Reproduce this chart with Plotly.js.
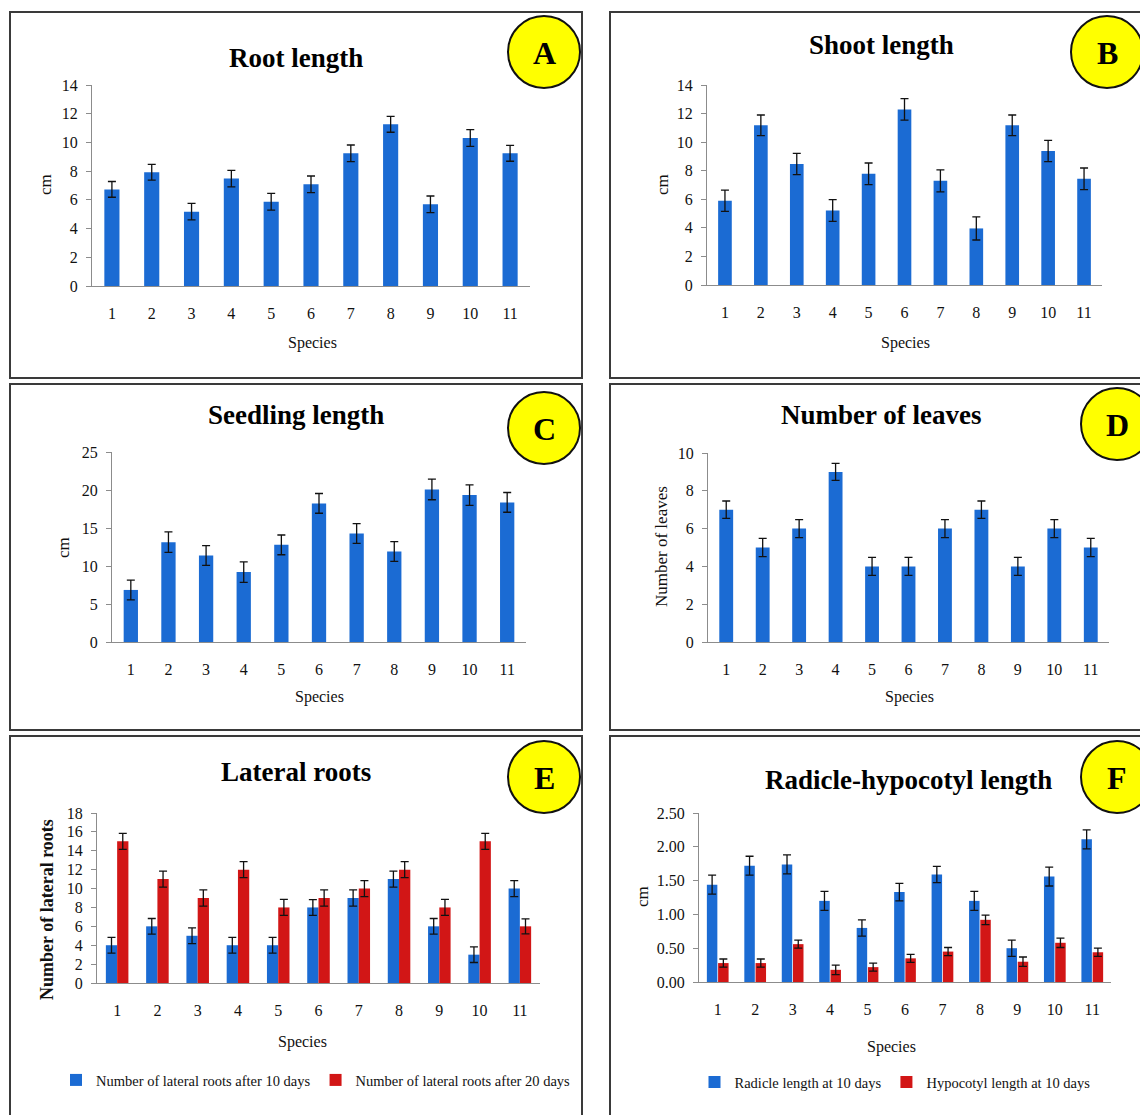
<!DOCTYPE html>
<html>
<head>
<meta charset="utf-8">
<script src="https://cdn.plot.ly/plotly-3.0.1.min.js"></script>
<style>
html,body{margin:0;padding:0;background:#fff;}
#chart{width:1140px;height:1115px;}
</style>
</head>
<body>
<div id="chart"></div>
<script>
// ---------- DATA ----------
const species = ['1','2','3','4','5','6','7','8','9','10','11'];

const rootLength = [6.73, 7.92, 5.18, 7.48, 5.87, 7.08, 9.24, 11.26, 5.69, 10.31, 9.24];
const rootErr    = [0.55, 0.55, 0.58, 0.58, 0.58, 0.58, 0.58, 0.55, 0.58, 0.58, 0.55];

const shootLength = [5.90, 11.18, 8.47, 5.21, 7.78, 12.29, 7.29, 3.96, 11.18, 9.38, 7.43];
const shootErr    = [0.74, 0.72, 0.75, 0.76, 0.76, 0.75, 0.77, 0.81, 0.72, 0.75, 0.76];

const seedlingLength = [6.85, 13.13, 11.39, 9.20, 12.78, 18.24, 14.27, 11.91, 20.07, 19.33, 18.37];
const seedlingErr    = [1.30, 1.35, 1.30, 1.35, 1.30, 1.30, 1.30, 1.30, 1.35, 1.35, 1.30];

const leaves    = [7, 5, 6, 9, 4, 4, 6, 7, 4, 6, 5];
const leavesErr = [0.46, 0.48, 0.48, 0.45, 0.48, 0.48, 0.48, 0.46, 0.48, 0.48, 0.48];

const lateral10    = [4, 6, 5, 4, 4, 8, 9, 11, 6, 3, 10];
const lateral10Err = [0.83, 0.83, 0.83, 0.83, 0.83, 0.83, 0.85, 0.85, 0.83, 0.83, 0.85];
const lateral20    = [15, 11, 9, 12, 8, 9, 10, 12, 8, 15, 6];
const lateral20Err = [0.85, 0.85, 0.85, 0.85, 0.85, 0.85, 0.85, 0.85, 0.85, 0.85, 0.80];

const radicle    = [1.44, 1.72, 1.74, 1.20, 0.80, 1.33, 1.59, 1.20, 0.50, 1.56, 2.11];
const radicleErr = [0.14, 0.14, 0.14, 0.14, 0.12, 0.13, 0.12, 0.14, 0.12, 0.14, 0.14];
const hypocotyl    = [0.28, 0.28, 0.56, 0.18, 0.22, 0.35, 0.45, 0.92, 0.30, 0.58, 0.44];
const hypocotylErr = [0.06, 0.06, 0.06, 0.07, 0.06, 0.06, 0.06, 0.07, 0.07, 0.07, 0.06];

const panelTitles = ['Root length','Shoot length','Seedling length','Number of leaves','Lateral roots','Radicle-hypocotyl length'];
const panelLetters = ['A','B','C','D','E','F'];
const yTitles = ['cm','cm','cm','Number of leaves','Number of lateral roots','cm'];
const xTitle = 'Species';
const legendNames = ['Number of lateral roots after 10 days','Number of lateral roots after 20 days','Radicle length at 10 days','Hypocotyl length at 10 days'];

// ---------- STYLE ----------
const W = 1140, H = 1115;
const SERIF = 'Liberation Serif, Times New Roman, serif';
const BLUE = '#1b6bd3';
const RED = '#d21616';
const AXC = '#8c8c8c';
const px = v => v / W;
const py = v => 1 - v / H;

function errStyle(arr){
  return {type:'data', array:arr, visible:true, color:'#111', thickness:1.3, width:4};
}
function single(y, err, n){
  return {type:'bar', x:species, y:y, xaxis:'x'+n, yaxis:'y'+n, width:0.38,
    marker:{color:BLUE, line:{width:0}}, error_y:errStyle(err), showlegend:false, hoverinfo:'y'};
}
function pair(y, err, n, name, color, offset, legend){
  return {type:'bar', x:species, y:y, xaxis:'x'+n, yaxis:'y'+n, width:0.28, offset:offset,
    name:name, legend:legend, marker:{color:color, line:{width:0}}, error_y:errStyle(err), hoverinfo:'y'};
}

const data = [
  single(rootLength, rootErr, ''),
  single(shootLength, shootErr, 2),
  single(seedlingLength, seedlingErr, 3),
  single(leaves, leavesErr, 4),
  pair(lateral10, lateral10Err, 5, legendNames[0], BLUE, -0.28, 'legend'),
  pair(lateral20, lateral20Err, 5, legendNames[1], RED, 0, 'legend'),
  pair(radicle, radicleErr, 6, legendNames[2], BLUE, -0.29, 'legend2'),
  pair(hypocotyl, hypocotylErr, 6, legendNames[3], RED, 0.01, 'legend2')
];

function xa(x0, x1, yid){
  return {domain:[px(x0), px(x1)], anchor:yid, type:'category', showline:true, linecolor:AXC, linewidth:1,
    ticks:'outside', ticklen:13, tickcolor:'rgba(0,0,0,0)', showgrid:false, zeroline:false, fixedrange:true,
    tickfont:{family:SERIF, size:16, color:'#111'}};
}
function ya(yb, yt, xid, range, dtick, fmt){
  const o = {domain:[py(yb), py(yt)], anchor:xid, range:range, dtick:dtick, tick0:0, showline:true, linecolor:AXC,
    linewidth:1, ticks:'outside', ticklen:5, tickcolor:AXC, showgrid:false, zeroline:false, fixedrange:true,
    ticklabelstandoff:5, tickfont:{family:SERIF, size:16, color:'#111'}};
  if (fmt) o.tickformat = fmt;
  return o;
}

const layout = {
  width:W, height:H, margin:{l:0,r:0,t:0,b:0}, paper_bgcolor:'#fff', plot_bgcolor:'rgba(0,0,0,0)',
  barmode:'overlay', font:{family:SERIF, color:'#111'},
  xaxis: xa(92, 530, 'y'),    yaxis: ya(286, 85, 'x', [0,14], 2),
  xaxis2:xa(707, 1102, 'y2'), yaxis2:ya(285, 85, 'x2', [0,14], 2),
  xaxis3:xa(112, 526, 'y3'),  yaxis3:ya(642, 452, 'x3', [0,25], 5),
  xaxis4:xa(708, 1109, 'y4'), yaxis4:ya(642, 453, 'x4', [0,10], 2),
  xaxis5:xa(97, 540, 'y5'),   yaxis5:ya(983, 813, 'x5', [0,18], 2),
  xaxis6:xa(699, 1111, 'y6'), yaxis6:ya(982, 813, 'x6', [0,2.5], 0.5, '.2f'),
  legend:{orientation:'h', x:px(316), xanchor:'center', y:py(1080), yanchor:'middle',
    font:{family:SERIF, size:14.5, color:'#111'}, bgcolor:'rgba(0,0,0,0)', itemwidth:30, tracegroupgap:0},
  legend2:{orientation:'h', x:px(895), xanchor:'center', y:py(1082), yanchor:'middle',
    font:{family:SERIF, size:14.5, color:'#111'}, bgcolor:'rgba(0,0,0,0)', itemwidth:30},
  shapes:[], annotations:[]
};

// panel borders
const boxes = [[10,12,582,378],[610,12,1150,378],[10,384,582,730],[610,384,1150,730],[10,736,582,1125],[610,736,1150,1125]];
boxes.forEach(b => layout.shapes.push({type:'rect', xref:'paper', yref:'paper',
  x0:px(b[0]), x1:px(b[2]), y0:py(b[3]), y1:py(b[1]), line:{color:'#3a3a3a', width:2}, fillcolor:'rgba(0,0,0,0)', layer:'below'}));

// yellow letter circles
const circles = [[544,52],[1107,52],[544,428],[1117,424],[544,777],[1117,777]];
const R = 36;
circles.forEach((c,i) => {
  layout.shapes.push({type:'circle', xref:'paper', yref:'paper',
    x0:px(c[0]-R), x1:px(c[0]+R), y0:py(c[1]+R), y1:py(c[1]-R),
    fillcolor:'#ffff00', line:{color:'#111', width:2}, layer:'above'});
  layout.annotations.push({xref:'paper', yref:'paper', x:px(c[0]), y:py(c[1]+1), text:'<b>'+panelLetters[i]+'</b>',
    showarrow:false, xanchor:'center', yanchor:'middle', font:{family:SERIF, size:32, color:'#000'}});
});

// panel titles
const titlePos = [[296,58],[881,45],[296,415],[881,415],[296,772],[908,780]];
titlePos.forEach((p,i) => layout.annotations.push({xref:'paper', yref:'paper', x:px(p[0]), y:py(p[1]),
  text:'<b>'+panelTitles[i]+'</b>', showarrow:false, xanchor:'center', yanchor:'middle',
  font:{family:SERIF, size:27, color:'#000'}}));

// x titles
const xtPos = [[312,343],[905,343],[319,697],[909,697],[302,1042],[891,1047]];
xtPos.forEach(p => layout.annotations.push({xref:'paper', yref:'paper', x:px(p[0]), y:py(p[1]),
  text:xTitle, showarrow:false, xanchor:'center', yanchor:'middle', font:{family:SERIF, size:16, color:'#111'}}));

// y titles
const ytPos = [[45,185],[662,185],[63,548],[661,547],[47,910],[643,897]];
const ytSize = [17,17,17,17,18,17];
ytPos.forEach((p,i) => layout.annotations.push({xref:'paper', yref:'paper', x:px(p[0]), y:py(p[1]),
  text: i===4 ? '<b>'+yTitles[i]+'</b>' : yTitles[i], textangle:-90, showarrow:false, xanchor:'center', yanchor:'middle',
  font:{family:SERIF, size:ytSize[i], color:'#111'}}));

Plotly.newPlot('chart', data, layout, {displayModeBar:false, staticPlot:true});
</script>
</body>
</html>
